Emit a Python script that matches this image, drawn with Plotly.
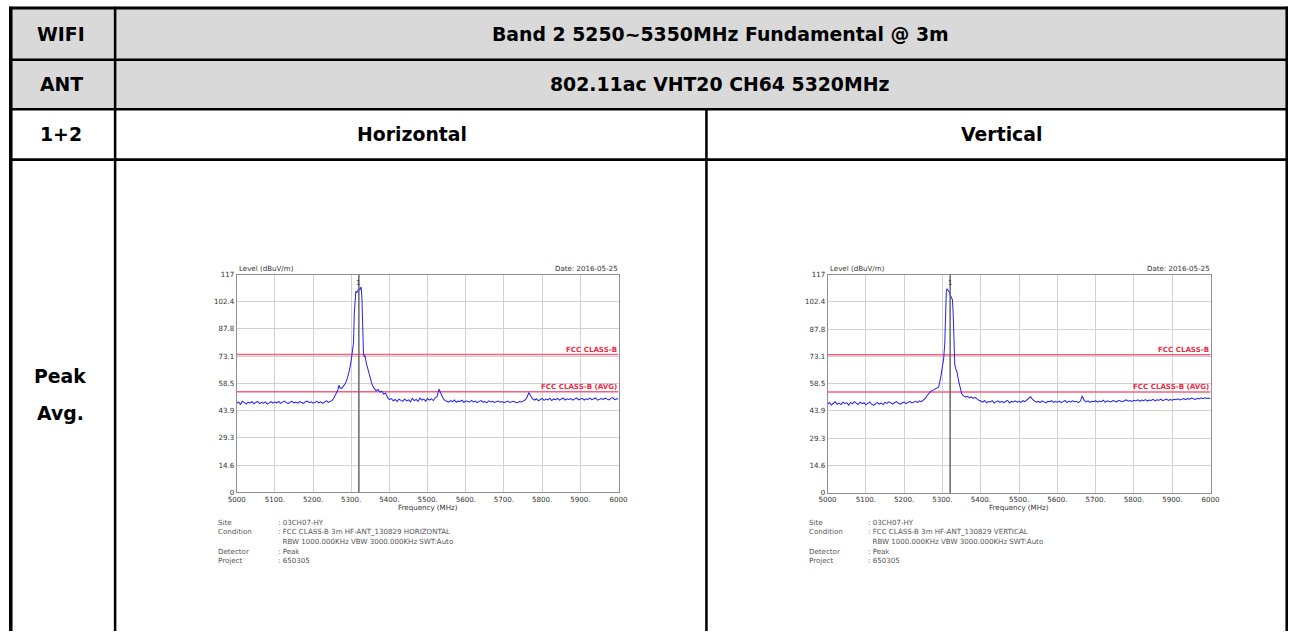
import plotly.graph_objects as go

# ---------------- data ----------------
X_TICKS = [5000, 5100, 5200, 5300, 5400, 5500, 5600, 5700, 5800, 5900, 6000]
X_TICK_TEXT = ["5000", "5100.", "5200.", "5300.", "5400.", "5500.", "5600.", "5700.", "5800.", "5900.", "6000"]
Y_TICKS = [0, 14.625, 29.25, 43.875, 58.5, 73.125, 87.75, 102.375, 117]
Y_TICK_TEXT = ["0", "14.6", "29.3", "43.9", "58.5", "73.1", "87.8", "102.4", "117"]

LIMIT_FREQ = [5000, 6000]
LIMIT_PEAK = 74
LIMIT_AVG = 54
LIMIT_PEAK_LABEL = "FCC CLASS-B"
LIMIT_AVG_LABEL = "FCC CLASS-B (AVG)"
MARKER_FREQ = 5320

# Horizontal polarisation trace (dBuV/m)
H_FREQ_LOW = list(range(5000, 5255, 5))
H_LVL_LOW = [47.8, 48.6, 47.3, 48.9, 48.2, 47.4, 48.5, 47.9, 48.8, 47.6,
             48.3, 48.9, 47.7, 48.4, 47.9, 48.6, 47.4, 48.2, 48.8, 47.9,
             48.5, 48.1, 48.9, 47.8, 48.4, 49.0, 48.2, 47.7, 48.6, 48.9,
             48.1, 48.5, 47.9, 48.8, 48.3, 47.8, 48.7, 49.1, 48.2, 48.6,
             47.9, 48.4, 48.9, 48.1, 48.6, 47.8, 48.5, 49.2, 48.3, 48.8,
             49.4]
H_FREQ_PEAK = [5255, 5260, 5265, 5268, 5270, 5275, 5280, 5285, 5290, 5295,
               5300, 5303, 5306, 5308, 5310, 5312, 5315, 5318, 5320, 5322,
               5324, 5326, 5328, 5330, 5332, 5334, 5336, 5340, 5345, 5350,
               5355, 5360, 5365, 5370, 5375, 5380, 5385, 5390, 5395]
H_LVL_PEAK = [50.8, 52.9, 55.0, 57.6, 56.2, 55.9, 57.4, 58.6, 61.5, 65.3,
              71.0, 75.5, 80.5, 96.0, 106.8, 108.0, 107.4, 108.6, 109.5, 108.7,
              109.9, 110.3, 104.5, 88.0, 75.0, 72.8, 73.4, 69.0, 65.5, 60.8,
              57.6, 56.0, 54.6, 55.3, 53.9, 54.4, 52.8, 53.3, 51.0]
H_FREQ_HIGH = list(range(5400, 6005, 5))
H_LVL_HIGH = [49.8, 50.4, 49.2, 49.9, 48.8, 50.1, 49.4, 48.9, 50.2, 49.1,
              49.7, 48.6, 50.5, 49.3, 49.9, 48.8, 50.6, 49.5, 50.1, 49.0,
              50.4, 49.6, 50.2, 49.3, 50.8, 51.6, 55.4, 52.8, 50.7, 49.4,
              49.0, 48.5, 49.3, 48.7, 49.6, 48.4, 49.1, 48.8, 49.5, 48.3,
              49.2, 48.9, 48.4, 49.4, 48.6, 49.0, 48.2, 48.9, 49.3, 48.5,
              48.8, 48.1, 49.2, 48.6, 48.9, 48.3, 48.7, 49.1, 48.4, 48.8,
              48.2, 48.6, 49.0, 48.3, 48.7, 48.9, 48.4, 48.1, 48.8, 48.5,
              49.0, 49.6, 50.8, 53.6, 51.8, 50.2, 49.6, 50.3, 49.2, 49.9,
              50.5, 49.4, 50.1, 49.7, 50.6, 49.3, 50.2, 49.8, 50.5, 49.5,
              50.0, 50.7, 49.6, 50.3, 49.9, 50.4, 49.5, 50.2, 50.8, 49.7,
              50.1, 50.5, 49.6, 50.3, 49.9, 50.6, 49.8, 50.2, 50.7, 49.5,
              50.0, 50.4, 49.9, 50.6, 50.1, 49.7, 50.5, 50.9, 49.8, 50.3,
              50.1]

# Vertical polarisation trace (dBuV/m)
V_FREQ_LOW = list(range(5000, 5255, 5))
V_LVL_LOW = [47.6, 48.4, 47.1, 48.2, 48.8, 47.5, 48.1, 47.3, 48.6, 47.9,
             48.3, 47.0, 48.5, 47.7, 48.9, 48.1, 47.4, 48.6, 47.8, 48.3,
             47.2, 48.0, 48.7, 47.5, 46.9, 47.8, 48.4, 47.6, 48.1, 47.3,
             48.5, 47.9, 48.8, 48.2, 47.6, 48.4, 48.9, 48.0, 47.5, 48.3,
             48.7, 47.8, 48.5, 49.0, 48.2, 48.7, 49.1, 48.4, 49.3, 48.9,
             49.8]
V_FREQ_PEAK = [5255, 5260, 5265, 5270, 5275, 5280, 5285, 5290, 5295, 5300,
               5303, 5306, 5308, 5310, 5312, 5314, 5316, 5318, 5320, 5322,
               5324, 5326, 5328, 5330, 5332, 5335, 5338, 5342, 5346, 5350,
               5355, 5360, 5365, 5370, 5375, 5380, 5385, 5390, 5395]
V_LVL_PEAK = [50.6, 52.2, 53.6, 54.5, 54.9, 55.4, 55.9, 56.8, 61.5, 68.0,
              71.8, 80.0, 97.0, 108.3, 109.4, 108.9, 108.1, 107.2, 106.3, 105.6,
              104.6, 103.4, 96.0, 77.0, 68.8, 66.2, 64.8, 60.2, 56.5, 53.2,
              52.0, 51.4, 51.8, 50.9, 51.5, 50.6, 51.2, 50.3, 49.6]
V_FREQ_HIGH = list(range(5400, 6005, 5))
V_LVL_HIGH = [49.2, 48.6, 49.5, 48.3, 49.0, 48.7, 49.4, 48.1, 48.9, 49.3,
              48.5, 49.1, 48.4, 48.8, 49.6, 48.2, 49.0, 48.7, 49.3, 48.6,
              49.1, 48.5, 49.4, 48.9, 49.8, 50.3, 51.5, 50.1, 49.2, 48.6,
              49.0, 48.4, 49.3, 48.7, 48.2, 49.1, 48.8, 49.4, 48.5, 49.0,
              48.6, 49.2, 48.3, 48.9, 49.5, 48.4, 49.1, 48.7, 49.3, 48.8,
              49.0, 48.4, 49.2, 51.9, 49.6, 48.7, 49.3, 48.5, 49.1, 48.8,
              49.4, 48.6, 49.2, 48.9, 49.7, 48.5, 49.3, 49.0, 48.7, 49.5,
              49.1, 48.8, 49.6, 49.2, 48.9, 49.4, 49.8, 49.1, 49.5, 49.0,
              49.6, 49.3, 49.9, 49.1, 49.7, 49.4, 50.0, 49.2, 49.8, 49.5,
              50.1, 49.3, 49.9, 49.6, 50.2, 49.4, 49.8, 50.3, 49.6, 50.0,
              49.7, 50.2, 49.9, 50.4, 49.8, 50.3, 50.6, 50.0, 50.5, 50.2,
              50.8, 50.4, 50.1, 50.7, 50.3, 50.9, 50.5, 51.0, 50.6, 50.8,
              50.4]

ROW_LABELS = ["WIFI", "ANT", "1+2", "Peak", "Avg."]
HEADER_1 = "Band 2 5250~5350MHz Fundamental @ 3m"
HEADER_2 = "802.11ac VHT20 CH64 5320MHz"
COL_TITLES = ["Horizontal", "Vertical"]
DATE_TEXT = "Date: 2016-05-25"
Y_LABEL = "Level (dBuV/m)"
X_LABEL = "Frequency (MHz)"
INFO_KEYS = ["Site", "Condition", "", "Detector", "Project"]
INFO_H = [": 03CH07-HY", ": FCC CLASS-B 3m HF-ANT_130829 HORIZONTAL",
          "  RBW 1000.000KHz VBW 3000.000KHz SWT:Auto", ": Peak", ": 650305"]
INFO_V = [": 03CH07-HY", ": FCC CLASS-B 3m HF-ANT_130829 VERTICAL",
          "  RBW 1000.000KHz VBW 3000.000KHz SWT:Auto", ": Peak", ": 650305"]

assert len(H_FREQ_LOW) == len(H_LVL_LOW)
assert len(H_FREQ_PEAK) == len(H_LVL_PEAK)
assert len(H_FREQ_HIGH) == len(H_LVL_HIGH)
assert len(V_FREQ_LOW) == len(V_LVL_LOW)
assert len(V_FREQ_PEAK) == len(V_LVL_PEAK)
assert len(V_FREQ_HIGH) == len(V_LVL_HIGH)

# ---------------- layout helpers ----------------
W, H = 1298, 635
S = 0.9865  # the page is photographed slightly shrunk about its centre


def fx(r):
    return W / 2 + (r - W / 2) / S


def fy(r):
    return H / 2 + (r - H / 2) / S


def px(r):
    return min(max(fx(r), 0), W) / W


def py(r):
    return 1 - min(max(fy(r), 0), H) / H


def fs(v):
    return v / S


TABLE_FONT = "DejaVu Sans, Arial, sans-serif"
SMALL_FONT = "DejaVu Sans, Arial, sans-serif"
SM = fs(7)

fig = go.Figure()

panels = [
    dict(xa="x", ya="y", freq=H_FREQ_LOW + H_FREQ_PEAK + H_FREQ_HIGH,
         lvl=H_LVL_LOW + H_LVL_PEAK + H_LVL_HIGH,
         left=236.7, right=619.0, top=274.0, bottom=492.0,
         info_x=216, info_val_x=276, info=INFO_H),
    dict(xa="x2", ya="y2", freq=V_FREQ_LOW + V_FREQ_PEAK + V_FREQ_HIGH,
         lvl=V_LVL_LOW + V_LVL_PEAK + V_LVL_HIGH,
         left=828.3, right=1211.7, top=274.0, bottom=492.5,
         info_x=808, info_val_x=867, info=INFO_V),
]

shapes = []
annotations = []

for i, p in enumerate(panels):
    fig.add_trace(go.Scatter(x=LIMIT_FREQ, y=[LIMIT_PEAK] * 2, mode="lines",
                             line=dict(color="#f5607c", width=fs(1.5)),
                             xaxis=p["xa"], yaxis=p["ya"], hoverinfo="skip"))
    fig.add_trace(go.Scatter(x=LIMIT_FREQ, y=[LIMIT_AVG] * 2, mode="lines",
                             line=dict(color="#f5607c", width=fs(1.5)),
                             xaxis=p["xa"], yaxis=p["ya"], hoverinfo="skip"))
    fig.add_trace(go.Scatter(x=p["freq"], y=p["lvl"], mode="lines",
                             line=dict(color="#2424f0", width=fs(1)),
                             xaxis=p["xa"], yaxis=p["ya"]))
    shapes.append(dict(type="line", xref=p["xa"], yref=p["ya"],
                       x0=MARKER_FREQ, x1=MARKER_FREQ, y0=0, y1=117,
                       line=dict(color="#6a6a6a", width=fs(1.5)), layer="above"))
    annotations.append(dict(x=MARKER_FREQ, y=116, xref=p["xa"], yref=p["ya"],
                            text="1", showarrow=False, yanchor="top",
                            font=dict(family=SMALL_FONT, size=SM, color="#333")))
    annotations.append(dict(x=6000, y=LIMIT_PEAK, xref=p["xa"], yref=p["ya"],
                            text="<b>" + LIMIT_PEAK_LABEL + "</b>", showarrow=False,
                            xanchor="right", yanchor="bottom", yshift=-1,
                            font=dict(family=SMALL_FONT, size=SM, color="#ee2a48")))
    annotations.append(dict(x=6000, y=LIMIT_AVG, xref=p["xa"], yref=p["ya"],
                            text="<b>" + LIMIT_AVG_LABEL + "</b>", showarrow=False,
                            xanchor="right", yanchor="bottom", yshift=-1,
                            font=dict(family=SMALL_FONT, size=SM, color="#ee2a48")))
    annotations.append(dict(x=px(p["left"]), y=py(268), xref="paper", yref="paper",
                            text=Y_LABEL, showarrow=False, xanchor="left", yanchor="middle",
                            font=dict(family=SMALL_FONT, size=SM, color="#333")))
    annotations.append(dict(x=px(p["right"] + 1.5), y=py(268), xref="paper", yref="paper",
                            text=DATE_TEXT, showarrow=False, xanchor="right", yanchor="middle",
                            font=dict(family=SMALL_FONT, size=SM, color="#333")))
    annotations.append(dict(x=px((p["left"] + p["right"]) / 2), y=py(507.5), xref="paper",
                            yref="paper", text=X_LABEL, showarrow=False,
                            xanchor="center", yanchor="middle",
                            font=dict(family=SMALL_FONT, size=SM, color="#333")))
    info_y = [521.7, 531.2, 541.0, 550.7, 560.2]
    for k, (key, val) in enumerate(zip(INFO_KEYS, p["info"])):
        if key:
            annotations.append(dict(x=px(p["info_x"]), y=py(info_y[k]), xref="paper",
                                    yref="paper", text=key, showarrow=False,
                                    xanchor="left", yanchor="middle",
                                    font=dict(family=SMALL_FONT, size=SM, color="#555")))
        annotations.append(dict(x=px(p["info_val_x"]), y=py(info_y[k]), xref="paper",
                                yref="paper", text=val, showarrow=False,
                                xanchor="left", yanchor="middle",
                                font=dict(family=SMALL_FONT, size=SM, color="#555")))

axis_common = dict(showgrid=True, gridcolor="#d2d2d2", gridwidth=1, showline=True,
                   linecolor="#8f8f8f", linewidth=1, mirror=True, ticks="",
                   zeroline=False, fixedrange=True,
                   tickfont=dict(family=SMALL_FONT, size=SM, color="#333"))

layout_axes = {}
for i, p in enumerate(panels):
    sx = "" if i == 0 else "2"
    layout_axes["xaxis" + sx] = dict(
        axis_common, domain=[px(p["left"]), px(p["right"])], range=[5000, 6000],
        tickvals=X_TICKS, ticktext=X_TICK_TEXT, anchor="y" + sx)
    layout_axes["yaxis" + sx] = dict(
        axis_common, domain=[py(p["bottom"]), py(p["top"])], range=[0, 117],
        tickvals=Y_TICKS, ticktext=Y_TICK_TEXT, anchor="x" + sx)

# ---------------- table frame ----------------
shapes.append(dict(type="rect", xref="paper", yref="paper", x0=px(8), x1=px(1296),
                   y0=py(108), y1=py(8), fillcolor="#d9d9d9", line=dict(width=0),
                   layer="below"))


def hline(y, x0, x1, w):
    shapes.append(dict(type="line", xref="paper", yref="paper", x0=x0, x1=x1,
                       y0=py(y), y1=py(y), line=dict(color="#000", width=fs(w))))


def vline(xp, y0, y1, w):
    shapes.append(dict(type="line", xref="paper", yref="paper", x0=xp, x1=xp,
                       y0=py(y0), y1=py(y1), line=dict(color="#000", width=fs(w))))


hline(7.3, 0, 1, 3)
hline(59, 0, 1, 2.5)
hline(108.7, 0, 1, 2.5)
hline(159, 0, 1, 2.5)
vline(1.8 / W, 6, 635, 3.5)          # outer left edge (as far left as the page shows)
vline(1 - 1.3 / W, 6, 635, 2.5)      # outer right edge
vline(px(115), 6, 635, 2.5)
vline(px(707), 108, 635, 2.5)

TS = fs(18.6)


def table_text(txt, x, y):
    annotations.append(dict(x=px(x), y=py(y), xref="paper", yref="paper",
                            text="<b>" + txt + "</b>", showarrow=False,
                            xanchor="center", yanchor="middle", align="center",
                            font=dict(family=TABLE_FONT, size=TS, color="#000")))


row_label_pos = [(61, 34), (61, 84), (61, 133.5), (60, 376), (60, 413)]
for lab, (x, y) in zip(ROW_LABELS, row_label_pos):
    table_text(lab, x, y)
table_text(HEADER_1, 721, 34)
table_text(HEADER_2, 721, 84)
table_text(COL_TITLES[0], 412, 133.5)
table_text(COL_TITLES[1], 1002, 133.5)

fig.update_layout(
    width=W, height=H, margin=dict(l=0, r=0, t=0, b=0),
    paper_bgcolor="#ffffff", plot_bgcolor="#ffffff", showlegend=False,
    shapes=shapes, annotations=annotations, **layout_axes,
)

fig.write_html(
    "out.html",
    config={"displayModeBar": False},
    post_script=("document.body.style.margin='0';document.body.style.padding='0';"
                 "document.documentElement.style.overflow='hidden';"
                 "document.body.style.overflow='hidden';"),
)
